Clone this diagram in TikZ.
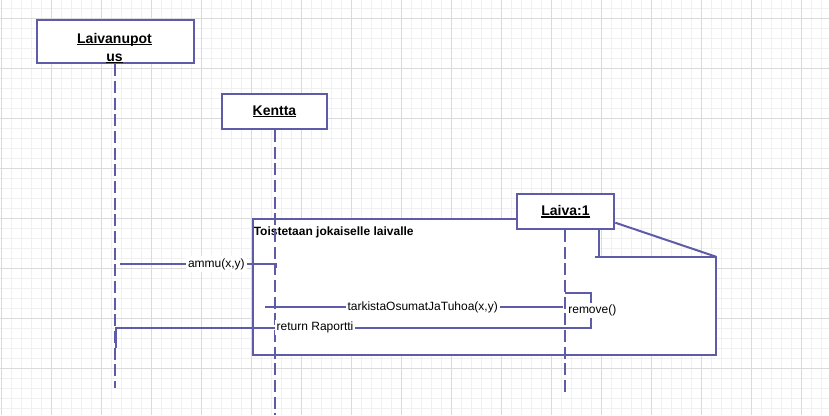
\documentclass[tikz,border=0pt]{standalone}
\usepackage{fontspec}
\setmainfont{Liberation Sans}
\usetikzlibrary{positioning, calc}

\definecolor{umlline}{RGB}{94,92,168}
\definecolor{gridminor}{RGB}{240,240,240}
\definecolor{gridmajor}{RGB}{218,218,218}

% underlined object name, rule close to the baseline
\newcommand{\ulname}[1]{\setbox0\hbox{#1}\rlap{\rule[-1.6pt]{\wd0}{0.9pt}}\box0}

\begin{document}
\begin{tikzpicture}[
		x=0.75pt, y=-0.75pt,
		every node/.style={font=\fontsize{9}{11}\selectfont},
		object/.style={draw=umlline, line width=1.5pt, fill=white, inner sep=0pt,
			font=\fontsize{10.5}{13.5}\selectfont\bfseries},
		objname/.style={font=\fontsize{10.5}{13.5}\selectfont\bfseries, align=center, inner sep=0pt},
		lifeline/.style={draw=umlline, line width=1.5pt, dash pattern=on 9pt off 3.5pt},
		frame/.style={draw=umlline, line width=1.5pt},
		msg/.style={draw=umlline, line width=1.5pt},
		msglabel/.style={fill=white, inner sep=1.5pt}
		]
		
		\useasboundingbox (0,0) rectangle (829,415);
		\fill[white] (0,0) rectangle (829,415);
		
		% Background grid
		\foreach \gx in {0,...,82}
		\draw[gridminor, line width=0.75pt] ({\gx*10+1.7},0) -- ({\gx*10+1.7},415);
		\foreach \gy in {0,...,40}
		\draw[gridminor, line width=0.75pt] (0,{\gy*10+8.3}) -- (829,{\gy*10+8.3});
		\foreach \gx in {0,...,16}
		\draw[gridmajor, line width=0.75pt] ({\gx*50+1.7},0) -- ({\gx*50+1.7},415);
		\foreach \gy in {0,...,7}
		\draw[gridmajor, line width=0.75pt] (0,{\gy*50+18.3}) -- (829,{\gy*50+18.3});
		
		% Loop frame
		\coordinate (frameNW) at (253,219);
		\coordinate (frameSE) at (716,355);
		\coordinate (frameNE) at (716,256.7);
		\coordinate (frameStep) at (599,256.7);
		\fill[white] (frameNW) -- (frameStep |- frameNW) -- (frameStep) -- (frameNE)
		-- (frameSE) -- (frameNW |- frameSE) -- cycle;
		
		% Objects
		\node[object, minimum width=117.75pt, minimum height=32.5pt] (laivanupotus) at (115.3,41.7) {};
		\node[object, minimum width=78.75pt, minimum height=26.25pt] (kentta) at (274.5,111.5) {\ulname{Kentta}};
		\node[object, minimum width=73.2pt, minimum height=26.25pt] (laiva) at (565.5,211.5) {\ulname{Laiva:1}};
		
		\draw[frame] (laiva.west |- frameNW) -- (frameNW) -- (frameNW |- frameSE) -- (frameSE)
		-- (frameNE) -- ([xshift=-3pt]frameStep);
		\draw[frame] (frameStep |- laiva.south) -- (frameStep);
		\draw[frame] (laiva.east |- 0,222.7) -- (frameNE);
		\node[anchor=west, inner sep=0pt, font=\fontsize{9}{11}\selectfont\bfseries] (loopLabel) at (253.5,232.8)
		{Toistetaan jokaiselle laivalle};
		
		% Lifelines
		\coordinate (laivanupotusEnd) at (115,388);
		\coordinate (kenttaEnd) at (275,415);
		\coordinate (laivaEnd) at (565,395);
		\draw[lifeline] (laivanupotus.south -| laivanupotusEnd) -- (laivanupotusEnd);
		\draw[lifeline] (kentta.south -| kenttaEnd) -- (kenttaEnd);
		\draw[lifeline] (laiva.south -| laivaEnd) -- (laivaEnd);
		
		\node[objname] (laivanupotusName) at (114.5,48) {\ulname{Laivanupot}\\\ulname{us}};
		
		% Messages
		\coordinate (ammuFrom) at (120,264);
		\coordinate (ammuTo) at (275.5,264);
		\draw[msg] (ammuFrom) -- node[msglabel, pos=0.62] (ammuLabel) {ammu(x,y)} (ammuTo) -- ++(0,4);
		
		\coordinate (tarkistaFrom) at (265,307.3);
		\coordinate (tarkistaTo) at (563,307.3);
		\draw[msg] (tarkistaFrom) -- node[msglabel, pos=0.529] (tarkistaLabel) {tarkistaOsumatJaTuhoa(x,y)} (tarkistaTo);
		
		% Self call and return
		\coordinate (removeFrom) at (565,293.3);
		\coordinate (removeTop) at (591,293.3);
		\coordinate (removeEnd) at (591,327.7);
		\coordinate (returnTo) at (116,327.7);
		\draw[msg] (removeFrom) -- (removeTop)
		-- node[msglabel, xshift=1pt] (removeLabel) {remove()} (removeEnd)
		-- node[msglabel, pos=0.581] (returnLabel) {return Raportti} (returnTo) -- ++(0,20.6);
		
	\end{tikzpicture}
\end{document}
